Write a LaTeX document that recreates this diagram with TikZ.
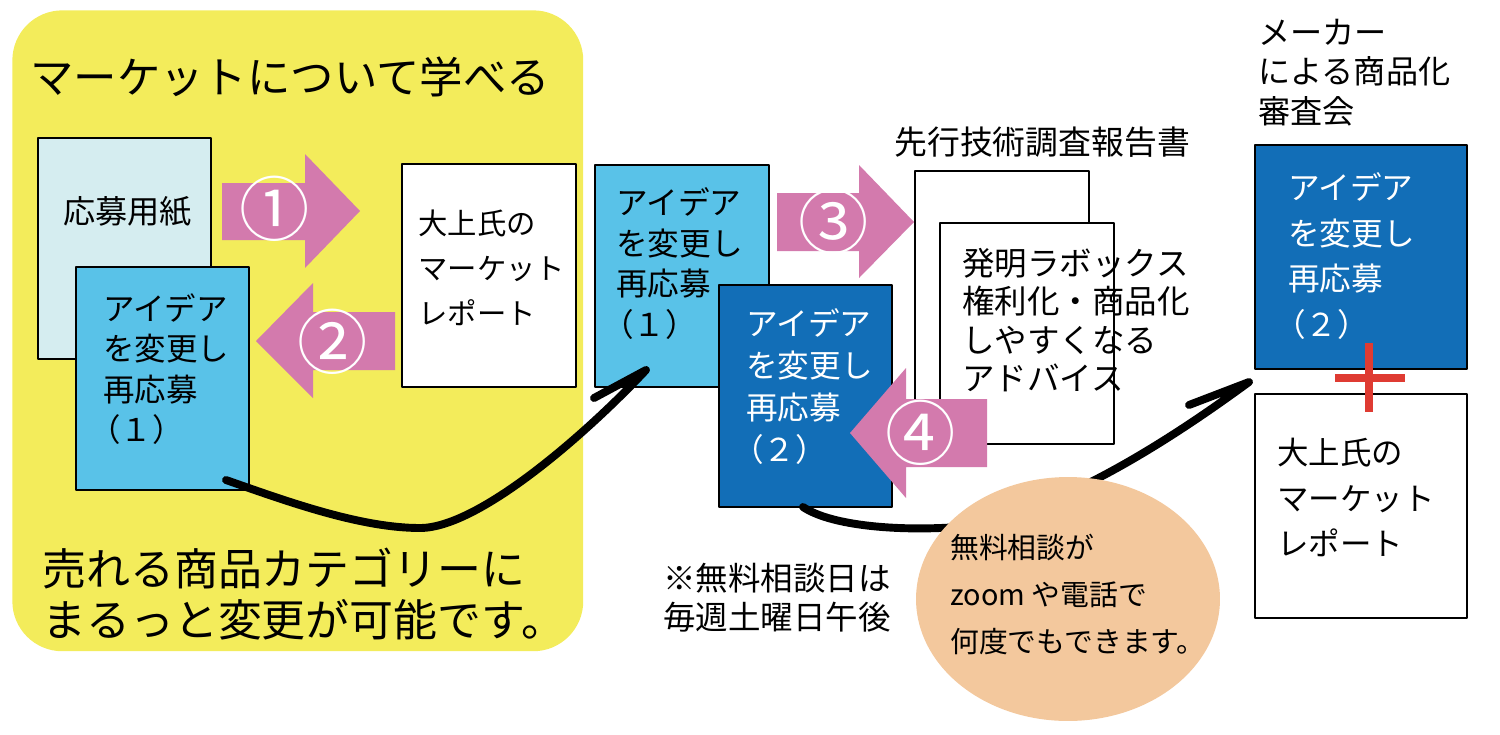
\documentclass[tikz,border=0pt]{standalone}
\usepackage{fontspec}
\setmainfont{Noto Sans CJK JP}
\usetikzlibrary{shapes.geometric}
\definecolor{marketyellow}{HTML}{F3EC5B}
\definecolor{arrowpink}{HTML}{D37AAD}
\definecolor{formblue}{HTML}{D5EDF0}
\definecolor{ideacyan}{HTML}{59C2E8}
\definecolor{ideablue}{HTML}{126EB7}
\definecolor{consultpeach}{HTML}{F3C89D}
\definecolor{plusred}{HTML}{DF3B32}

\begin{document}
\begin{tikzpicture}[x=0.02cm, y=-0.02cm, line join=round,
    box/.style={draw, line width=1.4pt, anchor=north west, inner sep=0pt},
    txt/.style={anchor=west, align=left, inner sep=0pt},
    num/.style={text=white, font=\fontsize{40pt}{40pt}\selectfont, inner sep=0pt},
    curve/.style={line width=4.5pt, line cap=round},
    blockarrow/.style={fill=arrowpink},
    plusbar/.style={draw=plusred, line width=4.5pt}]
    \useasboundingbox (0,0) rectangle (1500,734);

    % yellow area
    \node[fill=marketyellow, rounded corners=1cm, anchor=north west, inner sep=0pt,
          minimum width=11.42cm, minimum height=12.82cm] (market) at (12,10) {};

    % boxes
    \node[box, fill=formblue, minimum width=3.46cm, minimum height=4.42cm] (appl) at (37,137) {};
    \node[box, fill=ideacyan, minimum width=3.46cm, minimum height=4.46cm] (idea1L) at (75,266) {};
    \node[box, fill=white, minimum width=3.48cm, minimum height=4.46cm] (reportL) at (401,163) {};
    \node[box, fill=ideacyan, minimum width=3.48cm, minimum height=4.44cm] (idea1M) at (594,164) {};
    \node[box, fill=ideablue, minimum width=3.46cm, minimum height=4.44cm] (idea2M) at (718,284) {};
    \node[box, fill=white, minimum width=3.48cm, minimum height=4.84cm] (priorB) at (914,170) {};
    \node[box, fill=white, minimum width=3.48cm, minimum height=4.42cm] (priorF) at (939,222) {};
    \node[box, fill=ideablue, minimum width=4.24cm, minimum height=4.48cm] (ideaR) at (1254,144) {};
    \node[box, fill=white, minimum width=4.24cm, minimum height=4.48cm] (reportR) at (1254,393) {};

    % block arrows
    \fill[blockarrow] (222,183) -- (305,183) -- (305,154) -- (360,211) -- (305,268) -- (305,240) -- (222,240) -- cycle;
    \fill[blockarrow] (395,312) -- (313,312) -- (313,283) -- (256,341) -- (313,398) -- (313,370) -- (395,370) -- cycle;
    \fill[blockarrow] (777,193) -- (859,193) -- (859,165) -- (914,222) -- (859,278) -- (859,251) -- (777,251) -- cycle;
    \fill[blockarrow] (987,399) -- (906,399) -- (906,368) -- (850,433) -- (906,498) -- (906,467) -- (987,467) -- cycle;
    \node[num] (n1) at (275,209) {①};
    \node[num] (n2) at (333,342) {②};
    \node[num] (n3) at (834,222) {③};
    \node[num] (n4) at (921,433) {④};

    % curved arrows
    \coordinate (s1) at (226,480);
    \coordinate (e1) at (646,370);
    \coordinate (b1) at (594,398);
    \draw[curve] (s1) .. controls (286,501) and (360,528) .. (420,528)
                      .. controls (480,528) and (590,430) .. (e1) -- (b1);
    \coordinate (s2) at (803,507);
    \coordinate (e2) at (1249,382);
    \coordinate (b2) at (1189,405);
    \draw[curve] (s2) .. controls (830,525) and (890,530) .. (940,528)
                      .. controls (1040,526) and (1170,440) .. (e2) -- (b2);

    % plus
    \draw[plusbar] (1369,343) -- (1369,412);
    \draw[plusbar] (1335,378) -- (1405,378);

    % consultation bubble
    \node[ellipse, fill=consultpeach, inner sep=0pt, minimum width=6.08cm, minimum height=4.88cm] (consult) at (1068,599) {};

    % texts
    \node[txt, font=\fontsize{24.7pt}{29pt}\selectfont] (titlet) at (30,77) {マーケットについて学べる};
    \node[txt, font=\fontsize{18.3pt}{22pt}\selectfont] (applt) at (63,212) {応募用紙};
    \node[txt, font=\fontsize{17.9pt}{23.1pt}\selectfont] (idea1Lt) at (103,369) {アイデア\\を変更し\\再応募\\\kern-.45em（１）};
    \node[txt, font=\fontsize{16.7pt}{25.5pt}\selectfont] (reportLt) at (418,268) {大上氏の\\マーケット\\レポート};
    \node[txt, font=\fontsize{18pt}{23.2pt}\selectfont] (idea1Mt) at (616,263.5) {アイデア\\を変更し\\再応募\\\kern-.45em（１）};
    \node[txt, text=white, font=\fontsize{18pt}{24pt}\selectfont] (idea2Mt) at (746,386.5) {アイデア\\を変更し\\再応募\\\kern-.45em（２）};
    \node[txt, font=\fontsize{18.7pt}{22pt}\selectfont] (priort) at (894,142) {先行技術調査報告書};
    \node[txt, font=\fontsize{18.5pt}{21.9pt}\selectfont] (priorFt) at (962,320) {発明ラボックス\\権利化・商品化\\しやすくなる\\アドバイス};
    \node[txt, font=\fontsize{18.3pt}{22.4pt}\selectfont] (makert) at (1258,72.5) {メーカー\\による商品化\\審査会};
    \node[txt, text=white, font=\fontsize{18pt}{26.1pt}\selectfont] (ideaRt) at (1288,256) {アイデア\\を変更し\\再応募\\\kern-.45em（２）};
    \node[txt, font=\fontsize{17.9pt}{25.8pt}\selectfont] (reportRt) at (1277,497.5) {大上氏の\\マーケット\\レポート};
    \node[txt, font=\fontsize{16.4pt}{26.9pt}\selectfont] (consultt) at (950,594.5) {無料相談が\\zoom や電話で\\何度でもできます。};
    \node[txt, font=\fontsize{18.5pt}{22pt}\selectfont] (notet) at (663,598) {※無料相談日は\\毎週土曜日午後};
    \node[txt, font=\fontsize{25pt}{29.5pt}\selectfont] (sellt) at (42,594) {売れる商品カテゴリーに\\まるっと変更が可能です。};
\end{tikzpicture}
\end{document}
